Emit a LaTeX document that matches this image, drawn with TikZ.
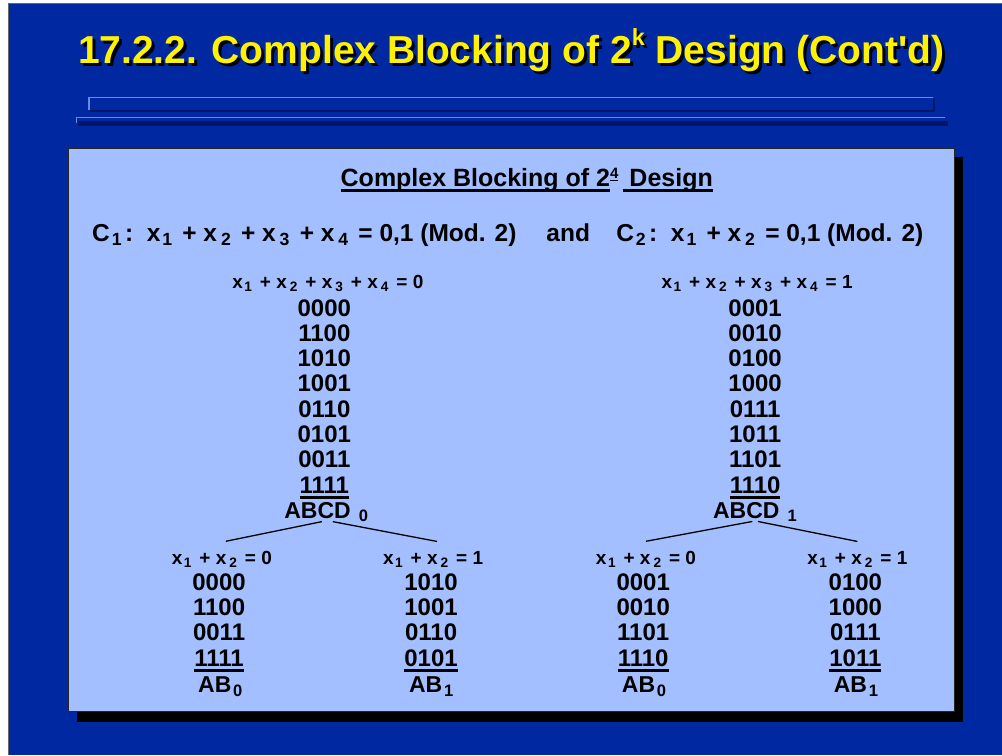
\documentclass[tikz,border=0pt]{standalone}
\usepackage{fontspec}
\setmainfont{Liberation Sans}
\usetikzlibrary{positioning}

\definecolor{slideblue}{RGB}{0,40,160}
\definecolor{panelblue}{RGB}{163,191,255}
\definecolor{barlight}{RGB}{105,135,230}
\definecolor{bardark}{RGB}{0,22,105}

\newcommand{\lowidx}[1]{\kern.08em\raisebox{-0.14em}{\scalebox{0.72}{#1}}\kern.14em\relax}
\newcommand{\ulined}[1]{\setbox0\hbox{#1}\rlap{\rule[-5.5pt]{\wd0}{3pt}}\box0}
\newcommand{\slidetitle}{17.2.2. Complex Blocking of 2\raisebox{.45em}{\scalebox{.6}{k}} Design (Cont\textquotesingle d)}

\begin{document}
\begin{tikzpicture}[x=1pt,y=-1pt,
	title/.style={font=\fontsize{39}{40}\selectfont\bfseries,anchor=base,inner sep=0pt},
	heading/.style={font=\fontsize{24.5}{26}\selectfont\bfseries,anchor=base,inner sep=0pt},
	cond/.style={font=\fontsize{19}{20}\selectfont\bfseries,anchor=base,inner sep=0pt},
	digits/.style={font=\fontsize{24}{26}\selectfont\bfseries,anchor=base,inner sep=0pt},
	block/.style={font=\fontsize{23}{25}\selectfont\bfseries,anchor=base,inner sep=0pt},
	branch/.style={line width=1.3pt}]

	% slide
	\fill[white] (0,0) rectangle (1002,755);
	\fill[slideblue] (8,3) rectangle (1002,755);
	\draw[black!60,line width=1pt] (8.5,755) -- (8.5,3.5) -- (1002,3.5);

	\node[title,text=black] at (514.5,66.5) {\slidetitle};
	\node[title,text=yellow] (title) at (511.5,63.5) {\slidetitle};

	% bars under the title
	\draw[bardark,line width=2pt] (90,111.5) -- (934.5,111.5) -- (934.5,99);
	\draw[barlight,line width=1.2pt] (89,110) -- (89,97.5) -- (933,97.5);
	\fill[bardark] (78,121) rectangle (948,126);
	\draw[barlight,line width=1pt] (76.5,123) -- (76.5,118) -- (945,118);

	% panel
	\fill[black] (77,157) rectangle (963,722);
	\draw[fill=panelblue,draw=black!85,line width=.8pt] (68,148) rectangle (955,712);

	\node[heading,font=\fontsize{25}{26}\selectfont\bfseries] (head) at (527,187) {\ulined{Complex Blocking of 2}\raisebox{.35em}{\scalebox{.6}{\ulined{4}}}\,\ulined{\ Design}};

	\node[heading,anchor=base west] (c1) at (92,241.7) {C\lowidx{1}:\ \ x\lowidx{1} + x\kern.08em\lowidx{2} + x\kern.08em\lowidx{3} + x\kern.08em\lowidx{4} = 0,1 (Mod. 2)};
	\node[heading] (andw) at (568.5,241.7) {and};
	\node[heading,anchor=base east] (c2) at (924,241.7) {C\lowidx{2}:\ \ x\lowidx{1} + x\kern.08em\lowidx{2} = 0,1 (Mod. 2)};

	% the two blocks of ABCD
	\node[cond] (s0) at (328,289) {x\lowidx{1} + x\kern.08em\lowidx{2} + x\kern.08em\lowidx{3} + x\kern.08em\lowidx{4} = 0};
	\node[cond] (s1) at (757.5,289) {x\lowidx{1} + x\kern.08em\lowidx{2} + x\kern.08em\lowidx{3} + x\kern.08em\lowidx{4} = 1};
	\foreach \code [count=\i] in {0000,1100,1010,1001,0110,0101,0011,\ulined{1111}}
		\node[digits] (a\i) at (324.5,290.9+25.3*\i) {\code};
	\foreach \code [count=\i] in {0001,0010,0100,1000,0111,1011,1101,\ulined{1110}}
		\node[digits] (b\i) at (755.5,290.9+25.3*\i) {\code};
	\node[block] (f0) at (328,518.3) {ABCD\ \lowidx{0}};
	\node[block] (f1) at (757,518.3) {ABCD\ \lowidx{1}};

	% the four blocks of AB
	\node[cond] (h00) at (222,565) {x\lowidx{1} + x\kern.08em\lowidx{2} = 0};
	\node[cond] (h01) at (433.3,565) {x\lowidx{1} + x\kern.08em\lowidx{2} = 1};
	\node[cond] (h10) at (646.3,565) {x\lowidx{1} + x\kern.08em\lowidx{2} = 0};
	\node[cond] (h11) at (857.8,565) {x\lowidx{1} + x\kern.08em\lowidx{2} = 1};
	\foreach \code [count=\i] in {0000,1100,0011,\ulined{1111}}
		\node[digits] (p\i) at (219.2,565.6+25.2*\i) {\code};
	\foreach \code [count=\i] in {1010,1001,0110,\ulined{0101}}
		\node[digits] (q\i) at (431.3,565.6+25.2*\i) {\code};
	\foreach \code [count=\i] in {0001,0010,1101,\ulined{1110}}
		\node[digits] (r\i) at (643.5,565.6+25.2*\i) {\code};
	\foreach \code [count=\i] in {0100,1000,0111,\ulined{1011}}
		\node[digits] (t\i) at (855.8,565.6+25.2*\i) {\code};
	\node[block] (g00) at (222,693.3) {AB\lowidx{0}};
	\node[block] (g01) at (433,693.3) {AB\lowidx{1}};
	\node[block] (g10) at (646,693.3) {AB\lowidx{0}};
	\node[block] (g11) at (858,693.3) {AB\lowidx{1}};

	\draw[branch] ([xshift=-6pt]f0.south) -- ([shift={(4pt,10pt)}]h00.north);
	\draw[branch] ([xshift=5pt]f0.south) -- ([shift={(4pt,10pt)}]h01.north);
	\draw[branch] ([xshift=-4.3pt]f1.south) -- ([yshift=10pt]h10.north);
	\draw[branch] ([xshift=1.3pt]f1.south) -- ([yshift=10pt]h11.north);
\end{tikzpicture}
\end{document}
